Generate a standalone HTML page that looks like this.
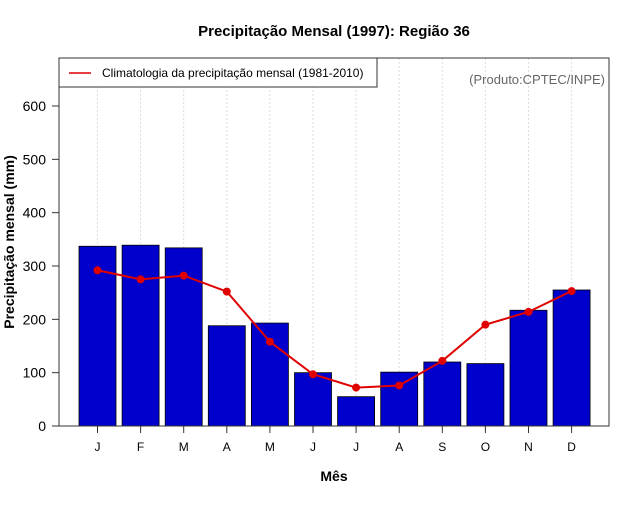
<!DOCTYPE html>
<html><head><meta charset="utf-8"><style>
body{margin:0;background:#fff;}
svg{font-family:"Liberation Sans",sans-serif;}
</style></head><body>
<svg id="chart" width="640" height="500" viewBox="0 0 640 500">
<text x="334" y="36" text-anchor="middle" font-size="15" font-weight="bold">Precipitação Mensal (1997): Região 36</text>
<g id="grid"></g>
<g id="bars"></g>
<g id="line"></g>
<rect x="59" y="58" width="550" height="368" fill="none" stroke="#333" stroke-width="1"/>
<g id="yaxis"></g>
<g id="xaxis"></g>
<g>
<rect x="59" y="58" width="318" height="29" fill="#fff" stroke="#333"/>
<line x1="69" y1="73" x2="91" y2="73" stroke="#e00000" stroke-width="1.5"/>
<text x="102" y="77" font-size="12">Climatologia da precipitação mensal (1981-2010)</text>
</g>
<text x="605" y="84" text-anchor="end" font-size="13" fill="#666">(Produto:CPTEC/INPE)</text>
<text transform="translate(14,242) rotate(-90)" text-anchor="middle" font-size="14" font-weight="bold">Precipitação mensal (mm)</text>
<text x="334" y="481" text-anchor="middle" font-size="14" font-weight="bold">Mês</text>
</svg>
<script>
const months=["J","F","M","A","M","J","J","A","S","O","N","D"];
const observed=[337,339,334,188,193,100,55,101,120,117,217,255];
const climatology=[292,275,282,252,158,97,72,76,122,190,214,253];
const yTicks=[0,100,200,300,400,500,600];
const NS="http://www.w3.org/2000/svg";
const xs=i=>97.5+i*43.1;
const ys=v=>426-v*320/600;
function mk(tag,attrs,parent){const e=document.createElementNS(NS,tag);for(const k in attrs)e.setAttribute(k,attrs[k]);document.getElementById(parent).appendChild(e);return e;}
months.forEach((m,i)=>{
 const g=mk('line',{x1:xs(i),x2:xs(i),y1:58,y2:426,stroke:'#ddd','stroke-dasharray':'2,2'},'grid');
 
 
 const b=mk('rect',{x:xs(i)-18.5,y:ys(observed[i]),width:37,height:426-ys(observed[i]),fill:'#0000cc',stroke:'#000','stroke-width':0.8},'bars');
 
 
 const t=mk('line',{x1:xs(i),x2:xs(i),y1:426,y2:433,stroke:'#333'},'xaxis');
 
 
 const l=mk('text',{x:xs(i),y:451,'text-anchor':'middle','font-size':12},'xaxis');
 l.textContent=m;
 
 
});
const p=mk('polyline',{points:climatology.map((v,i)=>xs(i)+','+ys(v)).join(' '),fill:'none',stroke:'#e00000','stroke-width':2},'line');


climatology.forEach((v,i)=>{
 const c=mk('circle',{cx:xs(i),cy:ys(v),r:4,fill:'#e00000'},'line');
 
 
});
yTicks.forEach(v=>{
 const t=mk('line',{x1:52,x2:59,y1:ys(v),y2:ys(v),stroke:'#333'},'yaxis');
 
 
 const l=mk('text',{x:46,y:ys(v)+5,'text-anchor':'end','font-size':14},'yaxis');
 l.textContent=v;
 
 
});
</script>
</body></html>
